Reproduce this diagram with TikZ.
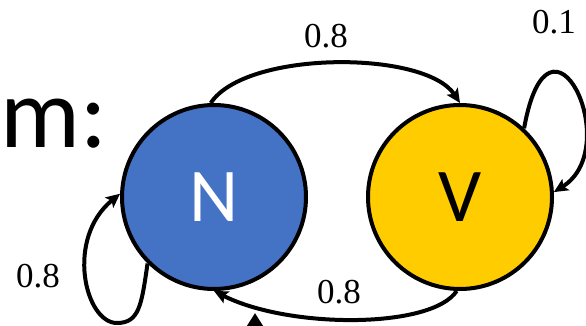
\documentclass[tikz,border=0pt]{standalone}
\usepackage{fontspec}
\newfontfamily\slidefont{Carlito}
\newfontfamily\probfont{Liberation Serif}
\usetikzlibrary{arrows.meta}

\definecolor{nblue}{HTML}{4472C4}
\definecolor{vgold}{HTML}{FFCC00}

\begin{document}
\begin{tikzpicture}[x=1pt,y=-1pt,
  state/.style={circle, draw=black, line width=4pt, minimum size=184pt,
    inner sep=0pt, font=\slidefont\fontsize{76}{76}\selectfont},
  trans/.style={line width=4pt, -{Stealth[length=14pt,width=13pt,inset=3pt]}},
  prob/.style={font=\probfont\fontsize{35}{35}\selectfont, inner sep=0pt}]
\useasboundingbox (0,0) rectangle (586,326);
\clip (0,0) rectangle (586,326);

% heading fragment
\node[anchor=base west, inner sep=0pt,
      font=\slidefont\fontsize{100}{100}\selectfont] (head) at (0,147) {m:};

% states
\node[state, fill=nblue, text=white] (N) at (214,197) {N};
\node[state, fill=vgold, text=black] (V) at (460,197) {V};

% transitions between the states
\draw[trans] (N.92) .. controls +(35,-53) and +(-35,-53) .. (V.90);
\draw[trans] (V.-92) .. controls +(-25,38) and +(75,38) .. (N.-90);

% self loops
\draw[trans] (V.47) .. controls +(25,-140) and +(72,-45) .. (V.3);
\coordinate (nlow) at (117,323);
\draw[trans] (N.225) .. controls +(-6,42) and +(22,0) .. (nlow)
  .. controls +(-32,0) and +(-55,45) .. (N.178);

% incoming arrow from below
\coordinate (bfoot) at (255,370);
\coordinate (btip) at (255,313);
\draw[line width=4pt, -{Triangle[length=20pt,width=24pt]}] (bfoot) -- (btip);

% probabilities
\node[prob] (pNV) at (326,36) {0.8};
\node[prob] (pVN) at (339,292) {0.8};
\node[prob] (pVV) at (554,22) {0.1};
\node[prob] (pNN) at (38,276) {0.8};
\end{tikzpicture}
\end{document}
